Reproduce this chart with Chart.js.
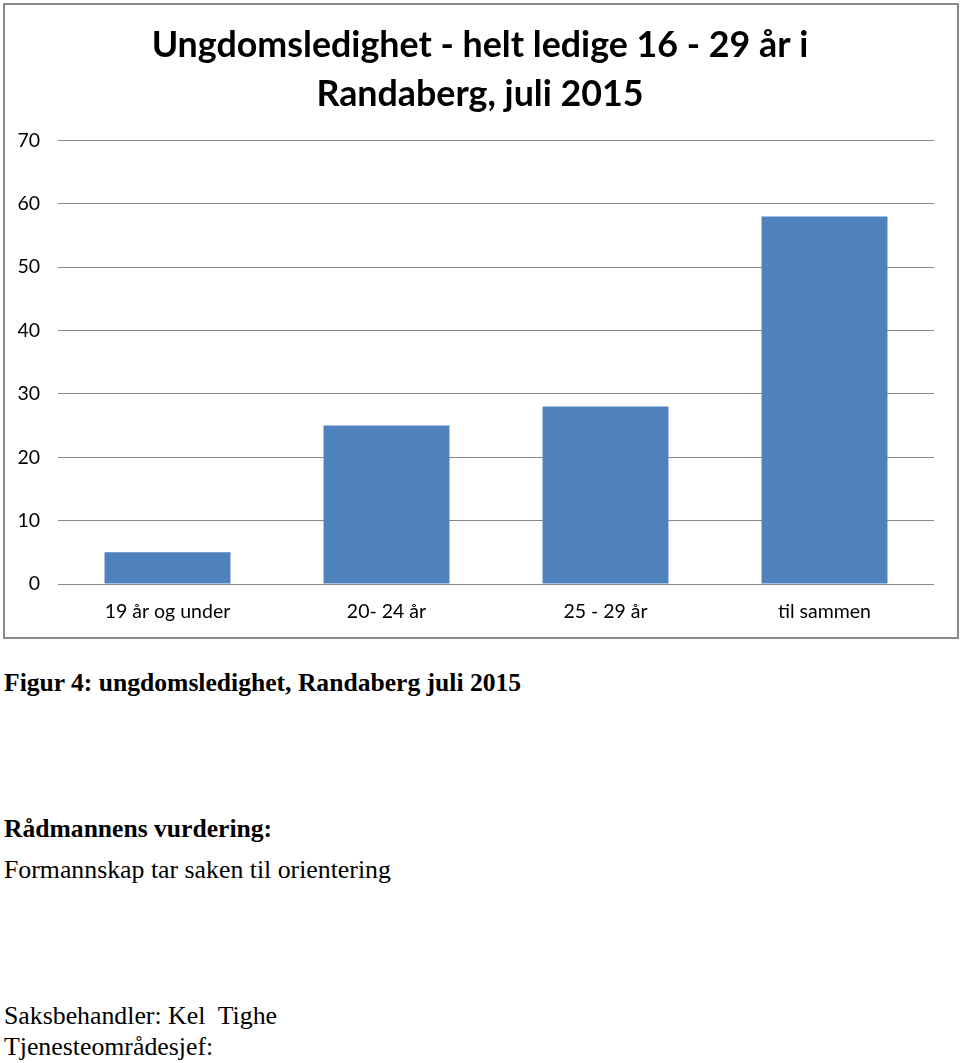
<!DOCTYPE html>
<html>
<head>
<meta charset="utf-8">
<script src="https://cdn.jsdelivr.net/npm/chart.js@4.4.0/dist/chart.umd.min.js"></script>
<style>
  html, body { margin: 0; padding: 0; background: #fff; }
  body { width: 960px; height: 1063px; position: relative; overflow: hidden; }
  #wrap { position: absolute; left: 0; top: 0; width: 960px; height: 640px; }
  #frame { position: absolute; left: 3px; top: 3px; width: 952px; height: 632px; border: 2px solid #8a8a8a; pointer-events: none; }
  .t { position: absolute; left: 4px; font-family: "Liberation Serif", "Times New Roman", serif; color: #000; white-space: pre; margin: 0; line-height: 30px; }
</style>
</head>
<body>
<div id="wrap"><canvas id="c" width="960" height="640"></canvas></div>
<div id="frame"></div>
<p class="t" style="top:668px;font-size:25.6px;font-weight:bold;">Figur 4: ungdomsledighet, Randaberg juli 2015</p>
<p class="t" style="top:814px;font-size:25.6px;font-weight:bold;">Rådmannens vurdering:</p>
<p class="t" style="top:855px;font-size:25.8px;">Formannskap tar saken til orientering</p>
<p class="t" style="top:1001px;font-size:25.8px;">Saksbehandler: Kel  Tighe</p>
<p class="t" style="top:1032px;font-size:25.8px;">Tjenesteområdesjef:</p>
<script>
const categories = ["19 år og under", "20- 24 år", "25 - 29 år", "til sammen"];
const values = [5, 25, 28, 58];
const yTicks = [0, 10, 20, 30, 40, 50, 60, 70];
const titleLines = ["Ungdomsledighet - helt ledige 16 - 29 år i", "Randaberg, juli 2015"];

new Chart(document.getElementById("c"), {
  type: "bar",
  data: {
    labels: categories,
    datasets: [{
      data: values,
      yAxisID: "y",
      backgroundColor: "#4f81bd",
      borderWidth: 0,
      categoryPercentage: 1.0,
      barPercentage: 0.575
    }]
  },
  options: {
    responsive: false,
    animation: false,
    layout: { padding: { left: 0, right: 0, top: 0, bottom: 0 } },
    plugins: {
      legend: { display: false },
      tooltip: { enabled: false },
      title: {
        display: true,
        text: titleLines,
        color: "#000",
        font: { family: "Lato, 'Open Sans', sans-serif", size: 35.8, weight: "bold", lineHeight: 1.36 },
        padding: { top: 21, bottom: 22 }
      }
    },
    scales: {
      x: {
        grid: { display: false, drawTicks: false },
        border: { display: false },
        ticks: { color: "#000", font: { family: "Lato, 'Open Sans', sans-serif", size: 19.5 }, padding: 16 },
        afterFit: (s) => { s.height = 56; }
      },
      y: {
        min: 0, max: 70,
        afterBuildTicks: (s) => { s.ticks = yTicks.map(v => ({ value: v })); },
        grid: { color: "#878787", lineWidth: 1, drawTicks: false },
        border: { display: false },
        ticks: { color: "#000", font: { family: "Lato, 'Open Sans', sans-serif", size: 19.5 }, padding: 18 },
        afterFit: (s) => { s.width = 58; }
      },
      yRight: {
        position: "right",
        display: true,
        min: 0, max: 1,
        grid: { display: false, drawTicks: false },
        border: { display: false },
        ticks: { display: false },
        afterFit: (s) => { s.width = 26; }
      }
    }
  }
});
</script>
</body>
</html>
